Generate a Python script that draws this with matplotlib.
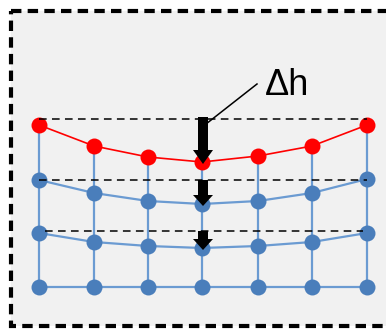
import matplotlib
matplotlib.use('Agg')
import matplotlib.pyplot as plt
from matplotlib.patches import Rectangle, FancyArrow

# positions des noeuds (pixels de l'image)
col_x = [39, 94, 148, 202, 258, 312, 367]
row_red = [125, 146, 157, 162, 156, 146, 125]
row_blue_1 = [180, 193, 201, 204, 201, 193, 179]
row_blue_2 = [233, 242, 246, 248, 246, 242, 233]
row_bottom = [287, 287, 287, 287, 287, 287, 287]

# lignes de reference en pointilles
ref_y = [119, 180, 231]
ref_x0 = [39, 39, 45]
ref_x1 = [367, 367, 363]

# fleches (x, debut, fin)
arrow_x = 203
arrow_start = [117, 180, 231]
arrow_end = [164, 206, 250]

label = 'Δh'

red = '#ff0000'
blue = '#4a7ebb'
blue_line = '#6b9bd2'

fig = plt.figure(figsize=(3.86, 3.29), dpi=100)
ax = fig.add_axes([0, 0, 1, 1])
ax.set_xlim(0, 386)
ax.set_ylim(329, 0)
ax.axis('off')

# cadre
ax.add_patch(Rectangle((11, 11), 420, 315, facecolor='#f1f1f1', edgecolor='black',
                       lw=3, linestyle=(0, (2.5, 1.5)), zorder=0))

rows = [row_red, row_blue_1, row_blue_2, row_bottom]

# lignes verticales
for i, x in enumerate(col_x):
    ys = [r[i] for r in rows]
    ax.plot([x] * len(ys), ys, color=blue_line, lw=1.6, zorder=1)

# lignes horizontales
for r in rows[1:]:
    ax.plot(col_x, r, color=blue_line, lw=1.6, zorder=1)
    ax.plot(col_x, r, 'o', color=blue, ms=11.5, mec='none', zorder=2)
ax.plot(col_x, row_red, color=red, lw=1.2, zorder=3)
ax.plot(col_x, row_red, 'o', color=red, ms=11.5, mec='none', zorder=4)

# pointilles
for y, x0, x1 in zip(ref_y, ref_x0, ref_x1):
    ax.plot([x0, x1], [y, y], color='black', lw=1.1, linestyle=(0, (5, 3.5)), zorder=5)

# fleches
for i, (y0, y1) in enumerate(zip(arrow_start, arrow_end)):
    hl = 14 if i == 0 else 11
    ax.add_patch(FancyArrow(arrow_x, y0, 0, y1 - y0, width=10, head_width=20,
                            head_length=hl, length_includes_head=True,
                            color='black', lw=0, zorder=6))

# annotation
ax.plot([206, 257], [124, 84], color='black', lw=1.1, zorder=6)
ax.text(265, 95, label, fontsize=26, family=['Liberation Sans', 'DejaVu Sans'],
        ha='left', va='baseline', zorder=7)

fig.savefig('out.png', dpi=100)
